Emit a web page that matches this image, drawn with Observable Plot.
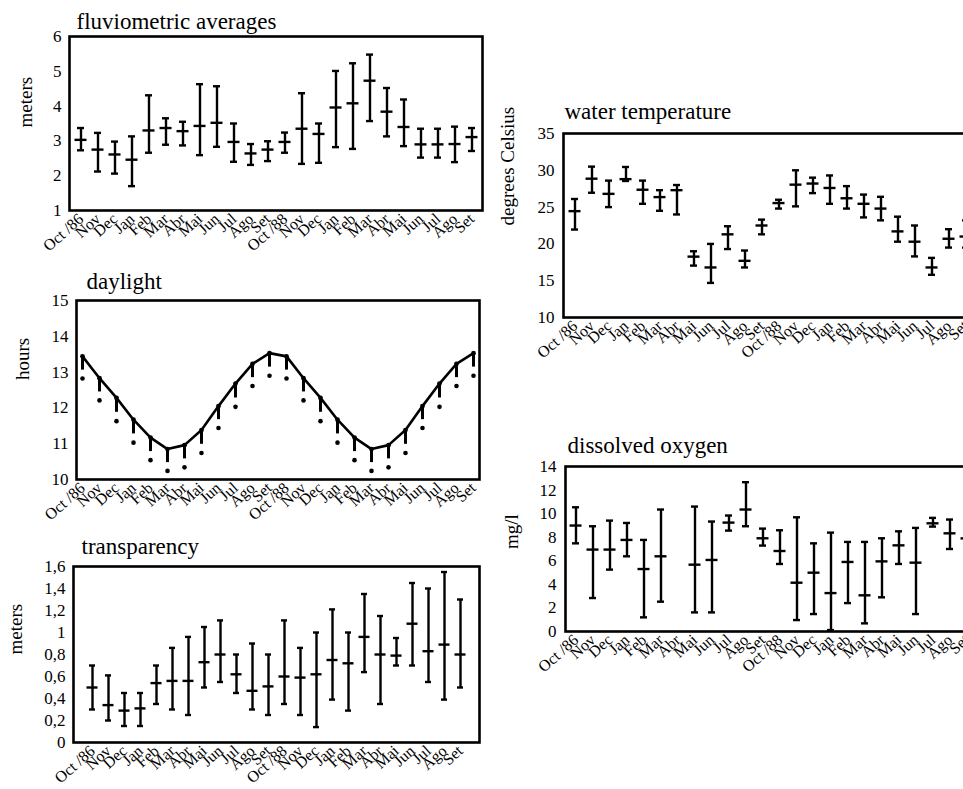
<!DOCTYPE html>
<html><head><meta charset="utf-8">
<script src="https://cdn.jsdelivr.net/npm/d3@7"></script>
<script src="https://cdn.jsdelivr.net/npm/@observablehq/plot@0.6"></script>
<style>
html,body{margin:0;padding:0;background:#fff;color:#000;}
#page{position:relative;width:963px;height:789px;overflow:hidden;background:#fff;}
</style></head><body><div id="page"></div>
<script>
// ---- categories ----
const months = ["Oct /86","Nov","Dec","Jan","Feb","Mar","Abr","Mai","Jun","Jul","Ago","Set",
                "Oct /88","Nov","Dec","Jan","Feb","Mar","Abr","Mai","Jun","Jul","Ago","Set"];

// ---- fluviometric averages (meters) ----
const fluvMean = [3.03,2.75,2.61,2.46,3.30,3.37,3.28,3.43,3.52,2.97,2.64,2.75,2.97,3.35,3.20,3.96,4.08,4.73,3.84,3.40,2.90,2.90,2.91,3.11];
const fluvLow  = [2.73,2.12,2.06,1.70,2.66,2.89,2.87,2.59,2.83,2.40,2.31,2.42,2.66,2.34,2.37,2.82,2.77,3.57,3.13,2.85,2.52,2.52,2.39,2.71];
const fluvHigh = [3.37,3.23,2.98,3.13,4.31,3.65,3.55,4.63,4.57,3.50,2.91,2.99,3.24,4.37,3.50,5.01,5.23,5.48,4.52,4.19,3.35,3.35,3.41,3.37];
const fluvTicks = [1,2,3,4,5,6];
const fluvTickLabels = ["1","2","3","4","5","6"];

// ---- daylight (hours) ----
const dayLength = [13.44,12.83,12.28,11.67,11.17,10.85,10.96,11.38,12.05,12.68,13.23,13.53,13.44,12.83,12.28,11.67,11.17,10.85,10.96,11.38,12.05,12.68,13.23,13.53];
const dayDots   = [12.82,12.21,11.63,11.03,10.54,10.24,10.34,10.74,11.44,12.03,12.61,12.90,12.82,12.21,11.63,11.03,10.54,10.24,10.34,10.74,11.44,12.03,12.61,12.90];
const dayTicks = [10,11,12,13,14,15];
const dayTickLabels = ["10","11","12","13","14","15"];

// ---- transparency (meters) ----
const transMean = [0.50,0.34,0.29,0.31,0.54,0.56,0.56,0.73,0.80,0.62,0.47,0.51,0.60,0.59,0.62,0.75,0.72,0.96,0.80,0.79,1.08,0.83,0.89,0.80];
const transLow  = [0.30,0.20,0.15,0.15,0.35,0.30,0.25,0.50,0.55,0.45,0.30,0.25,0.35,0.25,0.14,0.39,0.29,0.64,0.35,0.70,0.70,0.55,0.39,0.50];
const transHigh = [0.70,0.61,0.45,0.45,0.70,0.86,0.96,1.05,1.11,0.80,0.90,0.80,1.11,0.86,1.00,1.21,1.00,1.35,1.15,0.95,1.45,1.40,1.55,1.30];
const transTicks = [0,0.2,0.4,0.6,0.8,1,1.2,1.4,1.6];
const transTickLabels = ["0","0,2","0,4","0,6","0,8","1","1,2","1,4","1,6"];

// ---- water temperature (degrees Celsius) ----
const tempMean = [24.45,28.86,26.8,28.8,27.36,26.36,27.3,18.27,16.8,21.3,17.7,22.5,25.55,28.05,28.2,27.6,26.2,25.45,24.8,21.7,20.3,16.8,20.7,21.0];
const tempLow  = [21.95,26.95,25.0,28.55,25.45,24.5,24.0,17.05,14.7,19.3,16.8,21.3,24.8,25.1,26.9,25.45,24.8,23.6,23.2,20.3,18.3,15.8,19.5,19.5];
const tempHigh = [26.1,30.5,28.6,30.45,28.6,27.3,28.0,19.0,20.0,22.4,19.1,23.3,26.0,30.0,29.0,29.3,27.85,26.7,26.4,23.7,22.5,18.1,22.0,23.2];
const tempTicks = [10,15,20,25,30,35];
const tempTickLabels = ["10","15","20","25","30","35"];

// ---- dissolved oxygen (mg/l) ----
const oxMean = [8.99,6.95,6.95,7.77,5.30,6.38,null,5.67,6.07,9.24,10.35,7.91,6.83,4.14,4.99,3.26,5.90,3.07,5.95,7.31,5.84,9.18,8.33,7.9];
const oxLow  = [7.48,2.84,5.25,6.38,1.20,2.53,null,1.62,1.62,8.56,8.93,7.29,5.73,0.97,1.48,0.12,2.41,0.69,2.90,5.73,1.48,8.90,7.0,6.9];
const oxHigh = [10.54,8.93,9.41,9.21,7.77,10.35,null,10.6,9.33,9.84,12.67,8.73,8.59,9.69,7.48,8.39,7.60,7.60,7.91,8.50,8.79,9.64,9.50,8.8];
const oxTicks = [0,2,4,6,8,10,12,14];
const oxTickLabels = ["0","2","4","6","8","10","12","14"];

const FONT = "'Liberation Serif', 'Times New Roman', serif";
const page = document.getElementById("page");
const idx = d3.range(months.length);

function place(svg, left, top) {
  svg.style.position = "absolute";
  svg.style.left = left + "px";
  svg.style.top = top + "px";
  svg.style.maxWidth = "none";
  svg.style.background = "transparent";
  svg.style.fontFamily = FONT;
  svg.style.fontSize = "16px";
  svg.style.color = "#000";
  page.appendChild(svg);
}

function commonMarks(c) {
  return [
    Plot.frame({strokeWidth: 2.6}),
    Plot.axisY({ticks: c.ticks, tickFormat: d => c.tickLabels[c.ticks.indexOf(d)], tickSize: 0, tickPadding: c.tickPad, fontSize: 17, label: null}),
    Plot.axisX({tickFormat: i => months[i], tickRotate: -42, tickSize: 0, tickPadding: 6, fontSize: 16, label: null}),
    Plot.text([c.title], {frameAnchor: "top-left", dx: c.titleDx, dy: c.titleDy, textAnchor: "start", lineAnchor: "bottom", fontSize: 23}),
    Plot.text([c.yLabel], {frameAnchor: "left", rotate: -90, dx: c.yLabelDx, dy: c.yLabelDy || 0, fontSize: 19})
  ];
}

function errorPanel(c, mean, low, high) {
  const rows = idx.map(i => ({i, mean: mean[i], low: low[i], high: high[i]}));
  const svg = Plot.plot({
    width: c.width, height: c.height,
    marginLeft: c.mL, marginRight: c.mR, marginTop: c.mT, marginBottom: c.mB,
    x: {type: "band", domain: idx, paddingInner: 0, paddingOuter: c.po},
    y: {domain: c.domain},
    marks: [
      Plot.ruleX(rows, {x: "i", y1: "low", y2: "high", strokeWidth: 2.4}),
      Plot.tickY(rows, {x: "i", y: "low", strokeWidth: 2.4, insetLeft: 5, insetRight: 5}),
      Plot.tickY(rows, {x: "i", y: "high", strokeWidth: 2.4, insetLeft: 5, insetRight: 5}),
      Plot.tickY(rows, {x: "i", y: "mean", strokeWidth: 2.4, insetLeft: 2.5, insetRight: 2.5}),
      ...commonMarks(c)
    ]
  });
  place(svg, c.left, c.top);
}

// fluviometric averages
errorPanel({left: 0, top: 0, width: 490, height: 262, mL: 69, mR: 8, mT: 36, mB: 52, po: 0,
  domain: [1, 6], ticks: fluvTicks, tickLabels: fluvTickLabels, tickPad: 8,
  title: "fluviometric averages", titleDx: 7, titleDy: -8,
  yLabel: "meters", yLabelDx: -44, yLabelDy: 4}, fluvMean, fluvLow, fluvHigh);

// daylight
{
  const rows = idx.map(i => ({i, day: dayLength[i], dot: dayDots[i]}));
  const c = {ticks: dayTicks, tickLabels: dayTickLabels, tickPad: 8,
    title: "daylight", titleDx: 10, titleDy: -12, yLabel: "hours", yLabelDx: -54, yLabelDy: -10};
  const svg = Plot.plot({
    width: 490, height: 270, marginLeft: 76, marginRight: 11, marginTop: 38, marginBottom: 53,
    x: {type: "point", domain: idx, padding: 0},
    y: {domain: [10, 15]},
    marks: [
      Plot.line(rows, {x: "i", y: "day", strokeWidth: 2.6}),
      Plot.ruleX(rows, {x: "i", y1: "day", y2: d => d.day - 0.62 * (d.day - d.dot), strokeWidth: 3}),
      Plot.dot(rows, {x: "i", y: "day", r: 2.4, fill: "black", stroke: null}),
      Plot.dot(rows, {x: "i", y: "dot", r: 2.3, fill: "black", stroke: null}),
      ...commonMarks(c)
    ]
  });
  place(svg, 0, 262);
}

// transparency
errorPanel({left: 0, top: 520, width: 490, height: 269, mL: 73, mR: 11, mT: 46, mB: 47, po: 0.1,
  domain: [0, 1.6], ticks: transTicks, tickLabels: transTickLabels, tickPad: 8,
  title: "transparency", titleDx: 8, titleDy: -13,
  yLabel: "meters", yLabelDx: -58}, transMean, transLow, transHigh);

// water temperature
errorPanel({left: 490, top: 90, width: 500, height: 275, mL: 73, mR: 14, mT: 43, mB: 48, po: 0.08,
  domain: [10, 35], ticks: tempTicks, tickLabels: tempTickLabels, tickPad: 9,
  title: "water temperature", titleDx: 1, titleDy: -15,
  yLabel: "degrees Celsius", yLabelDx: -56}, tempMean, tempLow, tempHigh);

// dissolved oxygen
errorPanel({left: 490, top: 420, width: 500, height: 265, mL: 75, mR: 14, mT: 46, mB: 54, po: 0.08,
  domain: [0, 14], ticks: oxTicks, tickLabels: oxTickLabels, tickPad: 9,
  title: "dissolved oxygen", titleDx: 2, titleDy: -14,
  yLabel: "mg/l", yLabelDx: -54}, oxMean, oxLow, oxHigh);
</script></body></html>
